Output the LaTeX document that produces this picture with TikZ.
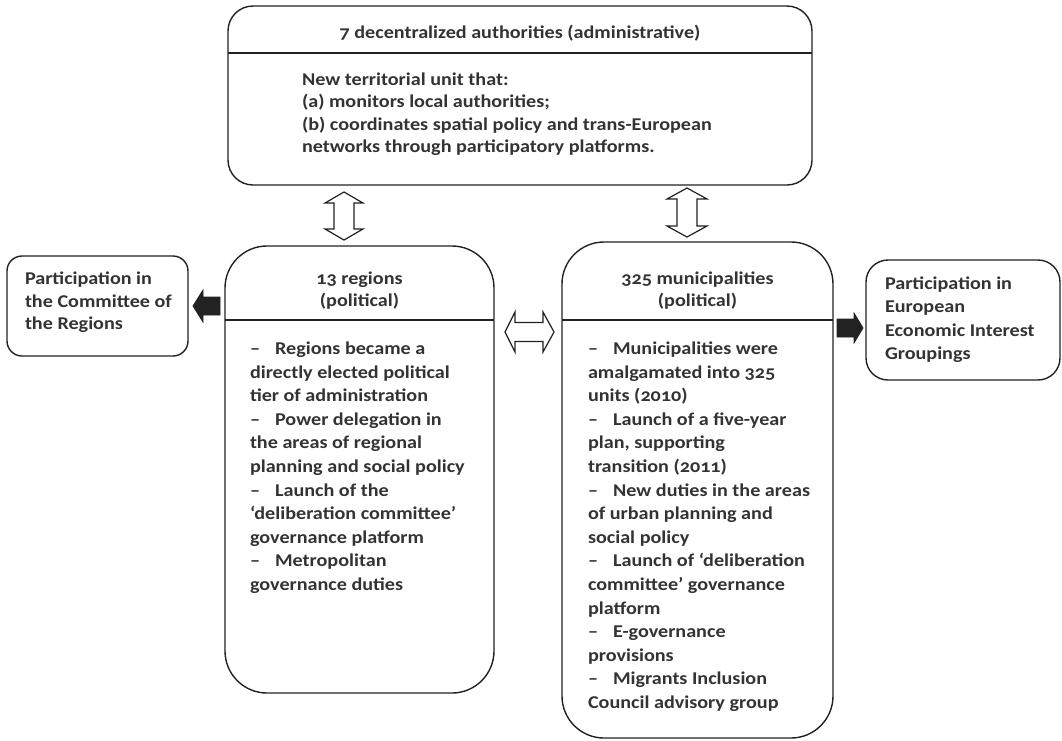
\documentclass[tikz,border=0pt]{standalone}
\usepackage{fontspec}
\setmainfont{Carlito}[Numbers=OldStyle,FakeStretch=1.12]
\definecolor{ink}{HTML}{333333}
\definecolor{edge}{HTML}{222222}
\newcommand\dsh{–\hspace{15pt}}
\newcommand\fA{\fontsize{18}{22.5}\selectfont\bfseries}
\newcommand\fB{\fontsize{18}{23.6}\selectfont\bfseries}
\newcommand\fC{\fontsize{18}{23.4}\selectfont\bfseries}
\newcommand\fT{\fontsize{18}{22}\selectfont\bfseries}
\begin{document}
\begin{tikzpicture}[x=1pt,y=-1pt,
  box/.style={draw=edge, line width=1.4pt, inner sep=0pt, outer sep=0pt},
  rule/.style={draw=edge, line width=1.2pt},
  txt/.style={inner sep=0pt, outer sep=0pt, text=ink, align=left, anchor=north west},
  ttl/.style={inner sep=0pt, outer sep=0pt, text=ink, align=center, anchor=north, font=\fT},
  hollow/.style={draw=edge, fill=white, line width=1.2pt, line join=miter},
  solid/.style={draw=edge, fill=edge, line width=0.8pt, line join=miter}]
\useasboundingbox (0,0) rectangle (1062,740);

% boxes
\node[box, rounded corners=25pt, minimum width=584pt, minimum height=179pt] (top) at (520,95.5) {};
\node[box, rounded corners=15pt, minimum width=181pt, minimum height=100pt] (cor) at (97.5,306) {};
\node[box, rounded corners=42pt, minimum width=269pt, minimum height=447pt] (reg) at (359.5,469.5) {};
\node[box, rounded corners=42pt, minimum width=271pt, minimum height=496pt] (mun) at (697.5,490) {};
\node[box, rounded corners=22pt, minimum width=194pt, minimum height=120pt] (eeig) at (963,320) {};

% dividers
\draw[rule] (top.west |- 0,53) -- (top.east |- 0,53);
\draw[rule] (reg.west |- 0,320) -- (reg.east |- 0,320);
\draw[rule] (mun.west |- 0,320) -- (mun.east |- 0,320);

% texts
\node[ttl] (toptitle) at (520,22.6) {\strut 7 decentralized authorities (administrative)};
\node[txt, font=\fA] (topbody) at (302,69.25) {\strut New territorial unit that:\\
(a) monitors local authorities;\\
(b) coordinates spatial policy and trans-European\\
networks through participatory platforms.};

\node[txt, font=\fA] (cortext) at (25,268.75) {\strut Participation in\\the Committee of\\the Regions};
\node[txt, font=\fC] (eeigtext) at (885,273.1) {\strut Participation in\\European\\Economic Interest\\Groupings};

\node[ttl] (regtitle) at (359.5,269.1) {\strut 13 regions\\(political)};
\node[txt, font=\fB] (regbody) at (250,338) {\strut\dsh Regions became a\\directly elected political\\tier of administration\\\dsh Power delegation in\\the areas of regional\\planning and social policy\\\dsh Launch of the\\‘deliberation committee’\\governance platform\\\dsh Metropolitan\\governance duties};

\node[ttl] (muntitle) at (697.5,269.1) {\strut 325 municipalities\\(political)};
\node[txt, font=\fB] (munbody) at (588,338) {\strut\dsh Municipalities were\\amalgamated into 325\\units (2010)\\\dsh Launch of a five-year\\plan, supporting\\transition (2011)\\\dsh New duties in the areas\\of urban planning and\\social policy\\\dsh Launch of ‘deliberation\\committee’ governance\\platform\\\dsh E-governance\\provisions\\\dsh Migrants Inclusion\\Council advisory group};

% hollow double arrows
\draw[hollow] (344,192) -- (363,203) -- (354,203) -- (354,229) -- (363,229) -- (344,240)
  -- (325,229) -- (334,229) -- (334,203) -- (325,203) -- cycle;
\draw[hollow] (687,188) -- (707,199) -- (697,199) -- (697,226) -- (707,226) -- (687,237)
  -- (667,226) -- (677,226) -- (677,199) -- (667,199) -- cycle;
\draw[hollow] (505,332) -- (515,312) -- (515,322.5) -- (543,322.5) -- (543,312) -- (554,332)
  -- (543,352) -- (543,341.5) -- (515,341.5) -- (515,352) -- cycle;

% solid arrows
\draw[solid] (193,306) -- (203,290) -- (203,297) -- (220,297) -- (220,315) -- (203,315) -- (203,322) -- cycle;
\draw[solid] (837,319) -- (854,319) -- (854,313) -- (863,328) -- (854,343) -- (854,337) -- (837,337) -- cycle;
\end{tikzpicture}
\end{document}
